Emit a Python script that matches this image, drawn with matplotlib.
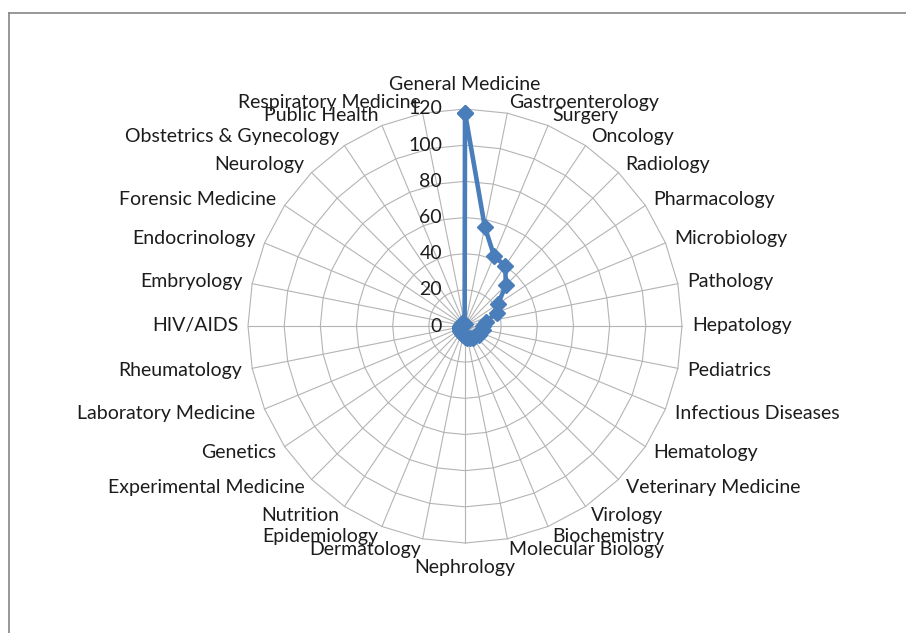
import matplotlib
matplotlib.use("Agg")
import numpy as np
import matplotlib.pyplot as plt
from matplotlib.lines import Line2D

categories = [
    "General Medicine", "Gastroenterology", "Surgery", "Oncology", "Radiology",
    "Pharmacology", "Microbiology", "Pathology", "Hepatology", "Pediatrics",
    "Infectious Diseases", "Hematology", "Veterinary Medicine", "Virology",
    "Biochemistry", "Molecular Biology", "Nephrology", "Dermatology",
    "Epidemiology", "Nutrition", "Experimental Medicine", "Genetics",
    "Laboratory Medicine", "Rheumatology", "HIV/AIDS", "Embryology",
    "Endocrinology", "Forensic Medicine", "Neurology", "Obstetrics & Gynecology",
    "Public Health", "Respiratory Medicine",
]
values = [118, 56, 42, 40, 32, 22, 19, 12, 10, 10, 9, 9, 8, 8, 7, 7,
          6, 5, 5, 4, 4, 3, 3, 3, 3, 2, 2, 2, 2, 2, 1, 1]
ring_values = [0, 20, 40, 60, 80, 100, 120]

plt.rcParams['font.family'] = ['Lato', 'DejaVu Sans']
FS = 14
TXT = '#1c1c1c'
GRID = '#B4B4B4'
BLUE = '#4A7EBB'

W, H = 906, 633
fig = plt.figure(figsize=(W / 100, H / 100), dpi=100)
cx, cy, R = 465, 326, 217
ax = fig.add_axes([(cx - R) / W, (H - cy - R) / H, 2 * R / W, 2 * R / H],
                  projection='polar')
ax.set_theta_zero_location('N')
ax.set_theta_direction(-1)
ax.set_ylim(0, ring_values[-1])
ax.grid(False)
ax.set_xticks([])
ax.set_yticks([])
ax.spines['polar'].set_visible(False)

n = len(categories)
theta = np.arange(n) * 2 * np.pi / n
closed_theta = np.append(theta, theta[0])

for r in ring_values[1:]:
    ax.plot(closed_theta, [r] * (n + 1), color=GRID, lw=0.8, zorder=1,
            clip_on=False)
for t in theta:
    ax.plot([t, t], [0, ring_values[-1]], color=GRID, lw=0.8, zorder=1,
            clip_on=False)

ax.plot(closed_theta, np.append(values, values[0]), color=BLUE, lw=3.3,
        marker='D', ms=8.5, zorder=3, clip_on=False)

for t, name in zip(theta, categories):
    s, c = np.sin(t), np.cos(t)
    if abs(s) < 1e-6:
        ha, dx, dy = 'center', 0, 24 * np.sign(c)
    else:
        ha = 'left' if s > 0 else 'right'
        dx, dy = 10 * s, 11 * c
    ax.annotate(name, xy=(t, ring_values[-1]), xytext=(dx, dy),
                textcoords='offset pixels', ha=ha, va='center',
                fontsize=FS, color=TXT, annotation_clip=False)

for v in ring_values:
    ax.annotate(str(v), xy=(0, v), xytext=(-23, 0), textcoords='offset pixels',
                ha='right', va='center', fontsize=FS, color=TXT,
                annotation_clip=False)

bx, by = 8.5 / W, 1 - 12.5 / H
fig.add_artist(Line2D([bx, bx], [by, 0], transform=fig.transFigure,
                      color='#868686', lw=1.2))
fig.add_artist(Line2D([bx, 1], [by, by], transform=fig.transFigure,
                      color='#868686', lw=1.2))

fig.savefig('out.png', dpi=100)
